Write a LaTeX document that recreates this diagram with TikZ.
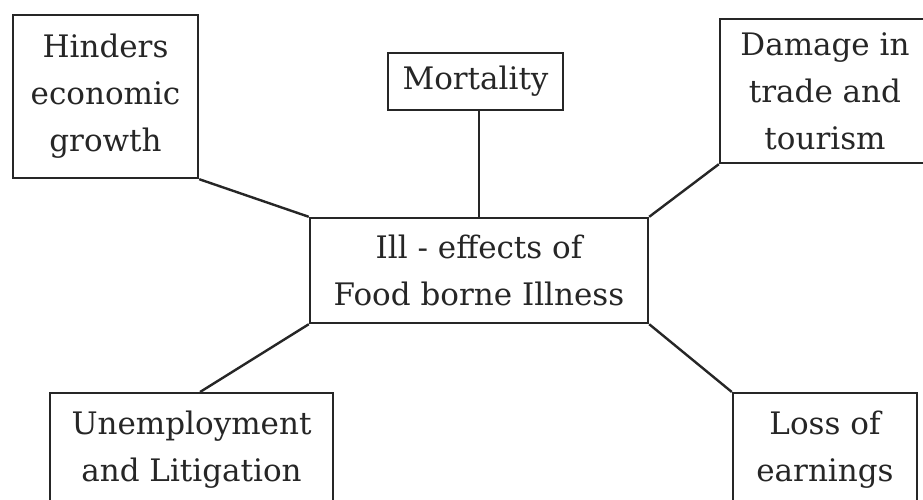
\documentclass[tikz,border=0pt]{standalone}
\usepackage{fontspec}
\setmainfont{DejaVu Serif}
\usetikzlibrary{calc}

\tikzset{
  box/.style={draw=black!85, line width=2.4pt, inner xsep=0pt, align=center,
    font=\fontsize{31}{47}\selectfont, text=black!85},
  link/.style={draw=black!85, line width=2.4pt}
}

\begin{document}
\begin{tikzpicture}[x=1pt, y=1pt]
  \useasboundingbox (0,0) rectangle (923,499);
  \clip (0,0) rectangle (923,499);
  \fill[white] (0,0) rectangle (923,499);

  % central topic
  \node[box, minimum width=338pt, minimum height=105pt] (cen) at (479,228.5)
    {Ill - effects of\\Food borne Illness};

  % surrounding effects
  \node[box, minimum width=185pt, minimum height=163pt] (hind) at (105.5,402.5)
    {Hinders\\economic\\growth};
  \node[box, minimum width=175pt, minimum height=57pt] (mort) at (475.5,417.5)
    {Mortality};
  \node[box, minimum width=210pt, minimum height=144pt] (dmg) at (825,408)
    {Damage in\\trade and\\tourism};
  \node[box, minimum width=283pt, inner ysep=17.5pt, anchor=north] (unemp) at (191.5,107)
    {Unemployment\\and Litigation};
  \node[box, minimum width=184pt, inner ysep=17.5pt, anchor=north] (loss) at (825,107)
    {Loss of\\earnings};

  % connectors
  \draw[link] (hind.south east) -- (cen.north west);
  \draw[link] (cen.north |- mort.south) -- (cen.north);
  \draw[link] (dmg.south west) -- (cen.north east);
  \draw[link] (cen.south west) -- ($(unemp.north west)!0.53!(unemp.north east)$);
  \draw[link] (cen.south east) -- (loss.north west);
\end{tikzpicture}
\end{document}
